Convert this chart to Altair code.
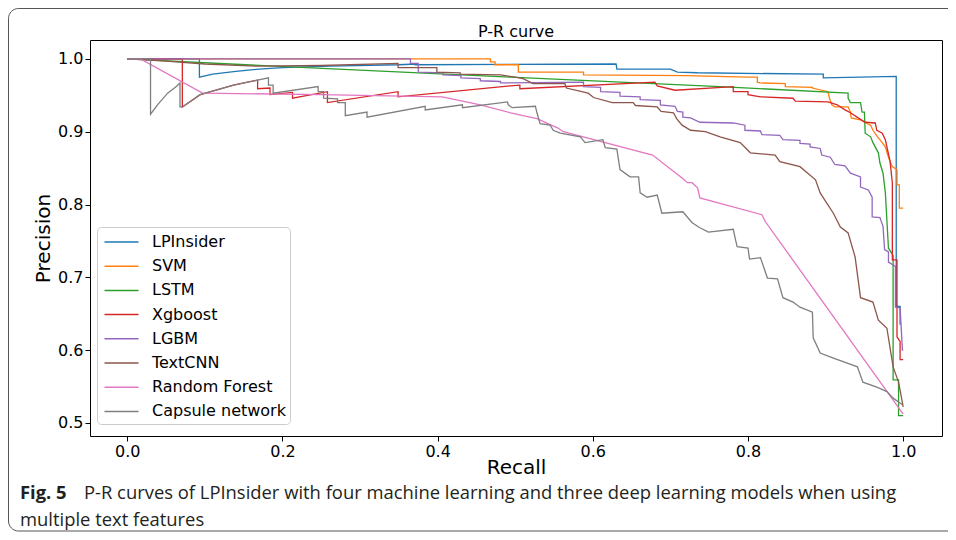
import altair as alt
import pandas as pd

models = ["LPInsider", "SVM", "LSTM", "Xgboost", "LGBM", "TextCNN",
          "Random Forest", "Capsule network"]
colors = ["#1f77b4", "#ff7f0e", "#2ca02c", "#d62728", "#9467bd", "#8c564b",
          "#e377c2", "#7f7f7f"]

x_ticks = [0.0, 0.2, 0.4, 0.6, 0.8, 1.0]
y_ticks = [0.5, 0.6, 0.7, 0.8, 0.9, 1.0]

# (recall, precision) points
lpinsider = [(0, 1.0), (0.093, 1.0), (0.093, 0.975), (0.11, 0.979), (0.14, 0.983),
             (0.17, 0.986), (0.2, 0.988), (0.26, 0.990), (0.35, 0.992), (0.371, 0.993),
             (0.371, 0.992), (0.63, 0.993), (0.631, 0.986), (0.7, 0.986), (0.709, 0.982),
             (0.735, 0.981), (0.897, 0.979), (0.897, 0.974), (0.991, 0.976), (0.991, 0.66),
             (0.996, 0.66), (0.996, 0.635)]

svm = [(0, 1.0), (0.468, 1.0), (0.468, 0.996), (0.474, 0.996), (0.474, 0.992),
       (0.504, 0.992), (0.504, 0.982), (0.588, 0.982), (0.588, 0.978), (0.72, 0.977),
       (0.8, 0.975), (0.812, 0.975), (0.812, 0.968), (0.816, 0.967), (0.848, 0.966),
       (0.848, 0.962), (0.883, 0.961), (0.883, 0.960), (0.903, 0.955), (0.905, 0.946),
       (0.908, 0.937), (0.912, 0.934), (0.929, 0.934), (0.932, 0.927), (0.933, 0.919),
       (0.946, 0.916), (0.952, 0.912), (0.958, 0.909), (0.961, 0.902), (0.967, 0.893),
       (0.973, 0.885), (0.977, 0.879), (0.981, 0.865), (0.986, 0.852), (0.992, 0.848),
       (0.992, 0.827), (0.995, 0.827), (0.995, 0.795), (1.0, 0.795)]

lstm = [(0, 1.0), (0.21, 0.989), (0.494, 0.975), (0.764, 0.962), (0.929, 0.953),
        (0.929, 0.946), (0.932, 0.940), (0.945, 0.940), (0.947, 0.927), (0.950, 0.927),
        (0.951, 0.898), (0.958, 0.893), (0.961, 0.885), (0.968, 0.871), (0.970, 0.857),
        (0.974, 0.843), (0.977, 0.816), (0.981, 0.740), (0.987, 0.730), (0.987, 0.559),
        (0.994, 0.559), (0.994, 0.510), (1.0, 0.510)]

xgboost = [(0, 1.0), (0.071, 1.0), (0.071, 0.934), (0.094, 0.951), (0.137, 0.964),
           (0.168, 0.971), (0.168, 0.959), (0.184, 0.960), (0.184, 0.951), (0.213, 0.954),
           (0.213, 0.946), (0.258, 0.955), (0.258, 0.940), (0.349, 0.955), (0.349, 0.948),
           (0.494, 0.963), (0.506, 0.964), (0.506, 0.959), (0.68, 0.968), (0.683, 0.963),
           (0.706, 0.957), (0.781, 0.962), (0.781, 0.955), (0.8, 0.955), (0.8, 0.951),
           (0.816, 0.948), (0.858, 0.946), (0.861, 0.942), (0.903, 0.941), (0.915, 0.937),
           (0.925, 0.930), (0.932, 0.926), (0.942, 0.919), (0.951, 0.913), (0.964, 0.912),
           (0.966, 0.902), (0.973, 0.898), (0.977, 0.889), (0.979, 0.879), (0.983, 0.860),
           (0.986, 0.830), (0.986, 0.724), (0.992, 0.724), (0.992, 0.618), (0.996, 0.612),
           (0.996, 0.587), (1.0, 0.587)]

lgbm = [(0, 1.0), (0.365, 1.0), (0.365, 0.994), (0.375, 0.994), (0.375, 0.982),
        (0.407, 0.981), (0.407, 0.978), (0.43, 0.977), (0.43, 0.974), (0.455, 0.973),
        (0.455, 0.970), (0.481, 0.969), (0.481, 0.967), (0.588, 0.968), (0.588, 0.962),
        (0.61, 0.961), (0.61, 0.955), (0.635, 0.954), (0.635, 0.949), (0.661, 0.948),
        (0.661, 0.944), (0.687, 0.943), (0.687, 0.937), (0.706, 0.935), (0.709, 0.928),
        (0.716, 0.927), (0.716, 0.920), (0.726, 0.919), (0.738, 0.913), (0.781, 0.912),
        (0.796, 0.909), (0.796, 0.902), (0.816, 0.901), (0.818, 0.896), (0.841, 0.895),
        (0.845, 0.889), (0.867, 0.888), (0.867, 0.884), (0.88, 0.883), (0.88, 0.879),
        (0.893, 0.877), (0.895, 0.868), (0.906, 0.865), (0.912, 0.855), (0.925, 0.853),
        (0.932, 0.843), (0.945, 0.838), (0.945, 0.824), (0.955, 0.820), (0.96, 0.810),
        (0.96, 0.783), (0.97, 0.782), (0.974, 0.770), (0.976, 0.738), (0.981, 0.735),
        (0.981, 0.721), (0.99, 0.715), (0.99, 0.659), (0.996, 0.658), (0.999, 0.600),
        (1.0, 0.600)]

textcnn = [(0, 1.0), (0.05, 0.997), (0.1, 0.993), (0.17, 0.990), (0.25, 0.991),
           (0.349, 0.994), (0.349, 0.988), (0.399, 0.988), (0.399, 0.982), (0.429, 0.981),
           (0.429, 0.979), (0.481, 0.978), (0.5, 0.975), (0.51, 0.973), (0.523, 0.966),
           (0.564, 0.966), (0.566, 0.960), (0.594, 0.953), (0.601, 0.947), (0.625, 0.940),
           (0.652, 0.940), (0.655, 0.936), (0.683, 0.934), (0.688, 0.928), (0.704, 0.926),
           (0.708, 0.918), (0.715, 0.909), (0.726, 0.902), (0.745, 0.900), (0.764, 0.893),
           (0.79, 0.885), (0.803, 0.871), (0.835, 0.868), (0.841, 0.859), (0.867, 0.852),
           (0.887, 0.834), (0.893, 0.816), (0.899, 0.806), (0.91, 0.788), (0.919, 0.769),
           (0.929, 0.761), (0.938, 0.728), (0.945, 0.672), (0.961, 0.666), (0.968, 0.641),
           (0.979, 0.630), (0.987, 0.577), (0.994, 0.556), (1.0, 0.522)]

random_forest = [(0, 1.0), (0.017, 1.0), (0.097, 0.953), (0.25, 0.951), (0.406, 0.948),
                 (0.455, 0.937), (0.494, 0.926), (0.51, 0.922), (0.528, 0.918),
                 (0.555, 0.905), (0.562, 0.900), (0.677, 0.868), (0.713, 0.838),
                 (0.722, 0.830), (0.728, 0.830), (0.735, 0.823), (0.738, 0.809),
                 (0.818, 0.786), (0.822, 0.777), (1.0, 0.512)]

capsule = [(0, 1.0), (0.03, 1.0), (0.03, 0.924), (0.039, 0.937), (0.052, 0.953),
           (0.062, 0.961), (0.068, 0.967), (0.068, 0.934), (0.071, 0.934), (0.094, 0.951),
           (0.137, 0.964), (0.168, 0.971), (0.182, 0.974), (0.182, 0.964), (0.188, 0.964),
           (0.188, 0.953), (0.246, 0.962), (0.246, 0.955), (0.253, 0.955), (0.253, 0.946),
           (0.271, 0.945), (0.271, 0.940), (0.281, 0.940), (0.281, 0.922), (0.309, 0.927),
           (0.309, 0.920), (0.384, 0.935), (0.384, 0.930), (0.432, 0.937), (0.432, 0.933),
           (0.49, 0.941), (0.491, 0.937), (0.496, 0.933), (0.526, 0.935), (0.528, 0.926),
           (0.532, 0.911), (0.545, 0.909), (0.549, 0.902), (0.558, 0.898), (0.584, 0.893),
           (0.59, 0.885), (0.613, 0.889), (0.616, 0.878), (0.631, 0.876), (0.635, 0.848),
           (0.648, 0.838), (0.659, 0.838), (0.661, 0.816), (0.67, 0.810), (0.683, 0.813),
           (0.689, 0.788), (0.716, 0.790), (0.728, 0.775), (0.738, 0.768), (0.749, 0.762),
           (0.781, 0.766), (0.784, 0.751), (0.786, 0.742), (0.8, 0.740), (0.802, 0.725),
           (0.816, 0.727), (0.825, 0.699), (0.838, 0.698), (0.845, 0.672), (0.858, 0.666),
           (0.867, 0.659), (0.883, 0.652), (0.884, 0.617), (0.893, 0.596), (0.91, 0.589),
           (0.928, 0.582), (0.941, 0.577), (0.948, 0.556), (0.966, 0.549), (0.979, 0.543),
           (0.987, 0.534), (0.999, 0.525)]

series = [lpinsider, svm, lstm, xgboost, lgbm, textcnn, random_forest, capsule]

title_text = "P-R curve"
caption_bold = "Fig. 5"
caption_line1 = ("P-R curves of LPInsider with four machine learning and three deep "
                 "learning models when using")
caption_line2 = "multiple text features"

rows = []
for name, pts in zip(models, series):
    for i, (r, p) in enumerate(pts):
        rows.append({"model": name, "recall": r, "precision": p, "idx": i})
df = pd.DataFrame(rows)

FONT = "DejaVu Sans"
CAP_FONT = "Open Sans"

lines = alt.Chart(df).mark_line(strokeWidth=1.3, clip=True).encode(
    x=alt.X("recall:Q",
            scale=alt.Scale(domain=[-0.048, 1.05], nice=False, zero=False),
            axis=alt.Axis(values=x_ticks, format=".1f", title="Recall",
                          titlePadding=-2)),
    y=alt.Y("precision:Q",
            scale=alt.Scale(domain=[0.482, 1.026], nice=False, zero=False),
            axis=alt.Axis(values=y_ticks, format=".1f", title="Precision",
                          titlePadding=4)),
    color=alt.Color("model:N",
                    scale=alt.Scale(domain=models, range=colors),
                    sort=models,
                    legend=alt.Legend(title=None, orient="none", legendX=7, legendY=187,
                                      padding=4, symbolOffset=9.5, labelOffset=19.5,
                                      symbolSize=400, symbolType="M-1.7,0L1.7,0",
                                      symbolStrokeWidth=1.5, rowPadding=5.2,
                                      labelFontSize=16, labelFont=FONT,
                                      labelColor="black", labelLimit=400,
                                      strokeColor="#cccccc", fillColor="white",
                                      cornerRadius=4)),
    order=alt.Order("idx:Q"),
)

one = pd.DataFrame({"k": [0]})

border = alt.Chart(one).mark_rect(fill="transparent", stroke="#555555",
                                  strokeWidth=1, cornerRadius=10).encode(
    x=alt.value(-81.5), x2=alt.value(900), y=alt.value(-31.5), y2=alt.value(491))

title_mark = alt.Chart(pd.DataFrame({"t": [title_text]})).mark_text(
    align="center", baseline="alphabetic", font=FONT, fontSize=16,
    color="black").encode(
    x=alt.value(426), y=alt.value(-3), text="t:N")

cap_bold = alt.Chart(pd.DataFrame({"t": [caption_bold]})).mark_text(
    align="left", baseline="alphabetic", font=CAP_FONT, fontSize=18.4,
    fontWeight="bold", color="#231f20").encode(
    x=alt.value(-70), y=alt.value(459), text="t:N")

cap1 = alt.Chart(pd.DataFrame({"t": [caption_line1]})).mark_text(
    align="left", baseline="alphabetic", font=CAP_FONT, fontSize=18.4,
    color="#231f20").encode(
    x=alt.value(-6), y=alt.value(459), text="t:N")

cap2 = alt.Chart(pd.DataFrame({"t": [caption_line2]})).mark_text(
    align="left", baseline="alphabetic", font=CAP_FONT, fontSize=18.4,
    color="#231f20").encode(
    x=alt.value(-70), y=alt.value(486), text="t:N")

chart = alt.layer(border, lines, title_mark, cap_bold, cap1, cap2).properties(
    width=852, height=396,
    padding={"left": 82, "top": 32, "right": 6, "bottom": 96},
    autosize=alt.AutoSizeParams(type="none"),
).configure_view(
    stroke="black", strokeWidth=1
).configure_axis(
    domain=False, grid=False, tickColor="black", tickSize=5, tickWidth=1,
    labelFont=FONT, labelFontSize=16, labelColor="black", labelPadding=2,
    titleFont=FONT, titleFontSize=20, titleFontWeight="normal", titleColor="black",
)

chart.save("out.html", embed_options={"renderer": "svg", "actions": False})
